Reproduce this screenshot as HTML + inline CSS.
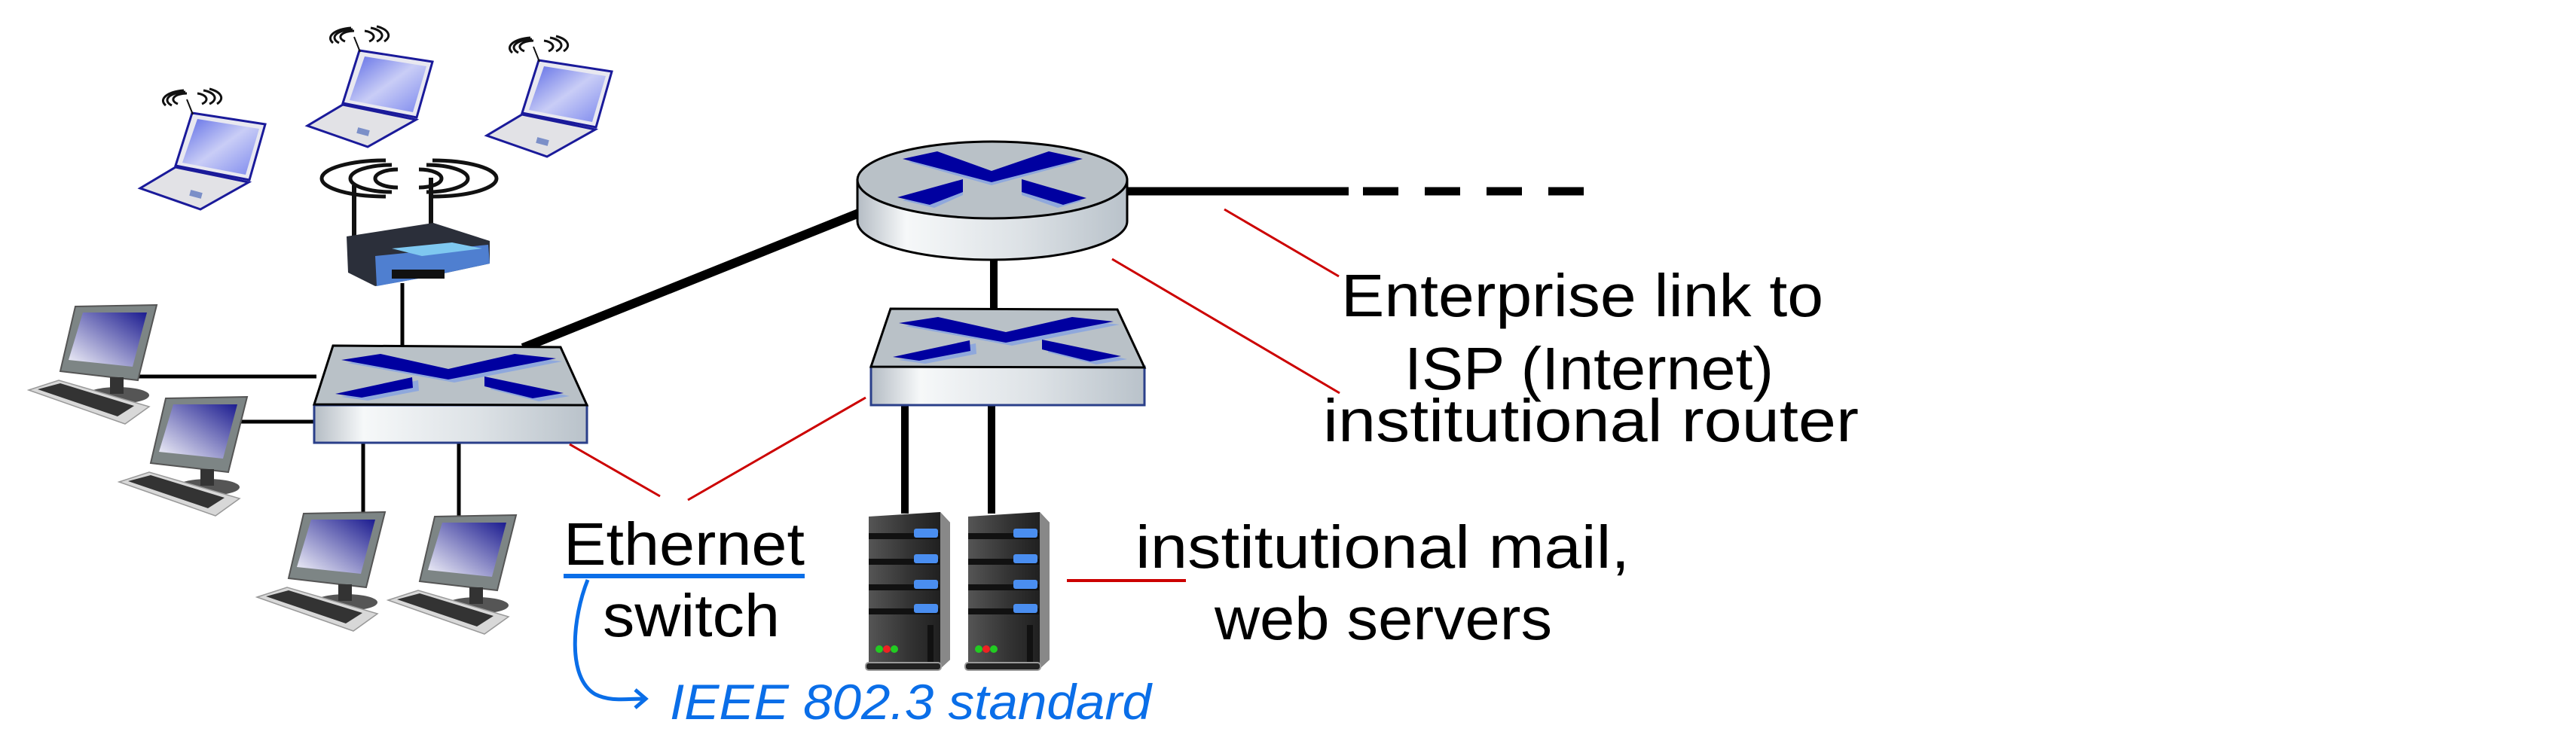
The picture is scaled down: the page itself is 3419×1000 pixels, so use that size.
<!DOCTYPE html>
<html><head><meta charset="utf-8"><style>
html,body{margin:0;padding:0;background:#fff}
svg{display:block}
text{font-family:"Liberation Sans Narrow","Liberation Sans",sans-serif}
</style></head><body>
<svg width="3419" height="1000" viewBox="0 0 3419 1000" xmlns="http://www.w3.org/2000/svg">
<defs>
<linearGradient id="scr" x1="1" y1="0" x2="0" y2="1"><stop offset="0" stop-color="#1c1c90"/><stop offset="1" stop-color="#f4f4fa"/></linearGradient>
<linearGradient id="lscr" x1="0" y1="0" x2="1" y2="1"><stop offset="0" stop-color="#5d6be6"/><stop offset=".5" stop-color="#c9cdf6"/><stop offset="1" stop-color="#7c88ee"/></linearGradient>
<linearGradient id="metal" x1="0" y1="0" x2="1" y2="0"><stop offset="0" stop-color="#b4bcc4"/><stop offset=".18" stop-color="#f6f8f9"/><stop offset=".6" stop-color="#dde2e6"/><stop offset="1" stop-color="#b9c2ca"/></linearGradient>
<linearGradient id="srv" x1="0" y1="0" x2="1" y2="0"><stop offset="0" stop-color="#555"/><stop offset=".5" stop-color="#333"/><stop offset="1" stop-color="#1a1a1a"/></linearGradient>
<g id="comp">
<polygon points="62,2 170,0 145,100 42,88" fill="#7d8585" stroke="#555" stroke-width="2"/>
<polygon points="72,10 157,10 138,82 53,73" fill="url(#scr)"/>
<ellipse cx="118" cy="120" rx="42" ry="11" fill="#555"/>
<rect x="108" y="96" width="18" height="22" fill="#333"/>
<polygon points="0,113 40,100 160,135 128,158" fill="#d8d8d8" stroke="#999" stroke-width="1.5"/>
<polygon points="12,112 42,104 140,134 118,148" fill="#333"/>
</g>
<g id="lap">
<polygon points="71,32 168,47 147,121 49,102" fill="#e8e8f0" stroke="#1a1a9a" stroke-width="3"/>
<polygon points="78,40 160,53 142,114 58,98" fill="url(#lscr)"/>
<polygon points="49,104 146,124 82,160 2,132" fill="#e2e2e6" stroke="#1a1a9a" stroke-width="3"/>
<rect x="68" y="136" width="16" height="8" fill="#7b8fc8" transform="rotate(15 76 140)"/>
<path d="M52,20 a18,8 0 0 1 12,-14 M44,22 a26,11 0 0 1 18,-18 M36,22 a34,14 0 0 1 24,-20" fill="none" stroke="#111" stroke-width="3"/>
<path d="M78,6 a16,8 0 0 1 6,14 M86,2 a24,11 0 0 1 8,18 M94,0 a32,14 0 0 1 10,20" fill="none" stroke="#111" stroke-width="3"/>
<line x1="64" y1="14" x2="72" y2="34" stroke="#111" stroke-width="2"/>
</g>
<g id="sx">
<polygon points="461,482 513,474 603,494 691,474 746,480 603,508" fill="#8fa8dc"/>
<polygon points="453,527 555,505 556,519 488,532" fill="#8fa8dc"/>
<polygon points="651,504 756,526 715,533 651,517" fill="#8fa8dc"/>
<polygon points="453,478 505,470 595,490 683,470 738,476 595,504" fill="#0000a0"/>
<polygon points="445,523 547,501 548,515 480,528" fill="#0000a0"/>
<polygon points="643,500 748,522 707,529 643,513" fill="#0000a0"/>
</g>
<g id="server">
<polygon points="0,6 95,0 108,14 108,196 95,208 0,208" fill="url(#srv)"/>
<polygon points="95,0 108,14 108,196 95,208" fill="#888"/>
<rect x="0" y="28" width="94" height="8" fill="#111"/><rect x="60" y="22" width="32" height="12" rx="3" fill="#4a8ef0"/>
<rect x="0" y="62" width="94" height="8" fill="#111"/><rect x="60" y="56" width="32" height="12" rx="3" fill="#4a8ef0"/>
<rect x="0" y="96" width="94" height="8" fill="#111"/><rect x="60" y="90" width="32" height="12" rx="3" fill="#4a8ef0"/>
<rect x="0" y="128" width="94" height="8" fill="#111"/><rect x="60" y="122" width="32" height="12" rx="3" fill="#4a8ef0"/>
<rect x="78" y="150" width="8" height="50" fill="#111"/>
<circle cx="14" cy="182" r="5" fill="#2c2"/><circle cx="24" cy="182" r="5" fill="#e22"/><circle cx="34" cy="182" r="5" fill="#2c2"/>
<rect x="-4" y="200" width="100" height="10" rx="4" fill="#222" stroke="#999" stroke-width="2"/>
</g>
</defs>

<g stroke="#000" stroke-width="5">
<line x1="184" y1="500" x2="420" y2="500"/>
<line x1="320" y1="560" x2="420" y2="560"/>
<line x1="482" y1="588" x2="482" y2="690"/>
<line x1="609" y1="588" x2="609" y2="690"/>
<line x1="534" y1="376" x2="534" y2="460"/>
</g>
<g stroke="#000">
<line x1="694" y1="462" x2="1145" y2="281" stroke-width="12"/>
<line x1="1319" y1="340" x2="1319" y2="412" stroke-width="10"/>
<line x1="1201" y1="538" x2="1201" y2="682" stroke-width="10"/>
<line x1="1316" y1="538" x2="1316" y2="682" stroke-width="10"/>
<line x1="1495" y1="254" x2="1790" y2="254" stroke-width="11"/>
<line x1="1809" y1="254" x2="2102" y2="254" stroke-width="11" stroke-dasharray="47,35"/>
</g>

<path d="M1138,239 L1138,294 A179,51 0 0 0 1496,294 L1496,239 Z" fill="url(#metal)" stroke="#000" stroke-width="3"/>
<ellipse cx="1317" cy="239" rx="179" ry="51" fill="#b9c1c7" stroke="#000" stroke-width="3"/>
<polygon points="1206,215 1252,205 1316,231 1384,205 1430,215 1316,246" fill="#8fa8dc"/>
<polygon points="1198,266 1278,242 1278,259 1240,276" fill="#8fa8dc"/>
<polygon points="1356,242 1436,267 1404,276 1356,259" fill="#8fa8dc"/>
<polygon points="1198,211 1244,201 1316,227 1392,201 1437,211 1316,242" fill="#0000a0"/>
<polygon points="1191,262 1278,238 1278,255 1234,272" fill="#0000a0"/>
<polygon points="1356,238 1442,263 1411,272 1356,255" fill="#0000a0"/>

<rect x="417" y="538" width="362" height="50" fill="url(#metal)" stroke="#2a3f8a" stroke-width="3"/>
<polygon points="442,459 744,461 779,538 417,537" fill="#b9c1c7" stroke="#000" stroke-width="3"/>
<use href="#sx"/>
<rect x="1156" y="487" width="363" height="51" fill="url(#metal)" stroke="#2a3f8a" stroke-width="3"/>
<polygon points="1182,410 1483,411 1519,488 1156,487" fill="#b9c1c7" stroke="#000" stroke-width="3"/>
<use href="#sx" transform="translate(740,-49)"/>

<g>
<path d="M528,225 A30,12 0 0 0 528,249 M520,219 A55,18 0 0 0 520,255 M512,213 A85,24 0 0 0 512,261" fill="none" stroke="#111" stroke-width="5"/>
<path d="M556,225 A30,12 0 0 1 556,249 M566,219 A55,18 0 0 1 566,255 M574,213 A85,24 0 0 1 574,261" fill="none" stroke="#111" stroke-width="5"/>
<line x1="470" y1="246" x2="470" y2="318" stroke="#111" stroke-width="6"/>
<line x1="572" y1="236" x2="572" y2="300" stroke="#111" stroke-width="6"/>
<polygon points="460,314 575,296 650,320 650,350 566,368 498,380 462,362" fill="#2b2f3a"/>
<polygon points="498,340 648,325 650,350 566,368 500,380" fill="#4f7fd0"/>
<polygon points="520,330 600,322 640,330 560,340" fill="#7fc8f0"/>
<rect x="520" y="358" width="70" height="12" fill="#111"/>
</g>

<use href="#comp" transform="translate(38,405)"/>
<use href="#comp" transform="translate(158,527)"/>
<use href="#comp" transform="translate(341,680)"/>
<use href="#comp" transform="translate(515,684)"/>
<use href="#lap" transform="translate(184,118)"/>
<use href="#lap" transform="translate(406,35)"/>
<use href="#lap" transform="translate(644,48)"/>

<use href="#server" transform="translate(1153,680)"/>
<use href="#server" transform="translate(1285,680)"/>

<g stroke="#cc0000" stroke-width="3">
<line x1="1625" y1="278" x2="1777" y2="367"/>
<line x1="1476" y1="344" x2="1778" y2="522"/>
<line x1="1416" y1="771" x2="1574" y2="771" stroke-width="4"/>
<line x1="1149" y1="528" x2="913" y2="664"/>
<line x1="756" y1="590" x2="876" y2="659"/>
</g>

<g font-size="80" fill="#000">
<text x="1780" y="420" textLength="640" lengthAdjust="spacingAndGlyphs">Enterprise link to</text>
<text x="1864" y="517" textLength="490" lengthAdjust="spacingAndGlyphs">ISP (Internet)</text>
<text x="1756" y="586" textLength="711" lengthAdjust="spacingAndGlyphs">institutional router</text>
<text x="1507" y="754" textLength="656" lengthAdjust="spacingAndGlyphs">institutional mail,</text>
<text x="1612" y="849" textLength="448" lengthAdjust="spacingAndGlyphs">web servers</text>
<text x="748" y="750" textLength="320" lengthAdjust="spacingAndGlyphs">Ethernet</text>
<text x="800" y="845" textLength="235" lengthAdjust="spacingAndGlyphs">switch</text>
</g>
<line x1="748" y1="765" x2="1068" y2="765" stroke="#0a6ee8" stroke-width="6"/>
<path d="M780,770 C760,820 752,900 790,922 C810,932 830,928 855,928 M843,916 L857,928 L843,940" fill="none" stroke="#0a6ee8" stroke-width="5"/>
<text x="889" y="955" font-size="66" fill="#0a6ee8" textLength="639" lengthAdjust="spacingAndGlyphs" font-style="italic">IEEE  802.3  standard</text>
</svg>
</body></html>
